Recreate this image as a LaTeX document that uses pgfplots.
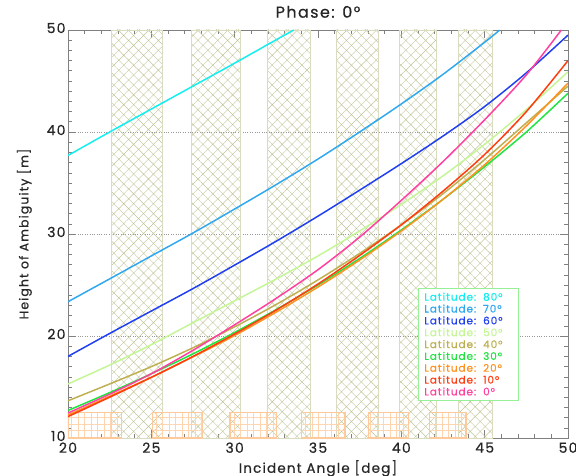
\documentclass[border=0pt]{standalone}
\usepackage{fontspec}
\setmainfont{Poppins}
\newfontfamily\idl{Poppins}[LetterSpace=9, FakeBold=0.6]
\usepackage{pgfplots}
\pgfplotsset{compat=1.18}
\usetikzlibrary{patterns.meta}

\definecolor{c80}{RGB}{20,238,238}
\definecolor{c70}{RGB}{48,168,240}
\definecolor{c60}{RGB}{32,64,240}
\definecolor{c50}{RGB}{196,246,150}
\definecolor{c40}{RGB}{190,176,80}
\definecolor{c30}{RGB}{32,228,64}
\definecolor{c20}{RGB}{255,146,32}
\definecolor{c10}{RGB}{255,60,16}
\definecolor{c00}{RGB}{255,64,160}
\definecolor{bandc}{RGB}{192,196,150}
\definecolor{boxc}{RGB}{255,202,155}
\definecolor{legc}{RGB}{150,240,150}

\pgfplotsset{
  band/.style={forget plot, draw=bandc!60, line width=0.4pt,
    pattern={Hatch[angle=45,distance=7bp,line width=0.4pt]}, pattern color=bandc},
  obox/.style={forget plot, draw=boxc, line width=1.4pt,
    pattern={Hatch[angle=0,distance=6.5bp,line width=0.35pt]}, pattern color=boxc!80},
  lat/.style={#1, line width=1.5pt, smooth},
}

\begin{document}
\begin{tikzpicture}
\useasboundingbox (-68bp,-38bp) rectangle (508bp,438bp);
\begin{axis}[
    at={(0,0)}, anchor=south west,
    scale only axis, width=500bp, height=408bp,
    xmin=20, xmax=50, ymin=10, ymax=50,
    xtick={20,25,...,50}, ytick={10,20,...,50},
    minor x tick num=4, minor y tick num=9,
    major tick length=8bp, minor tick length=4bp,
    tick style={black!50, line width=0.6pt},
    axis line style={black!50, line width=0.8pt},
    ymajorgrids, grid style={dotted, black!40, line width=0.7pt},
    /pgf/number format/assume math mode=true,
    tick label style={font=\idl\fontsize{14}{15}\selectfont, black!85},
    xticklabel style={yshift=-1bp},
    yticklabel style={xshift=1bp, yshift=2bp},
    title={Phase: 0°},
    title style={font=\idl\fontsize{16}{17}\selectfont, black!85, at={(axis description cs:0.5,1)}, anchor=south, inner sep=0pt, yshift=6bp},
    xlabel={Incident Angle [deg]},
    xlabel style={font=\idl\fontsize{13.5}{15}\selectfont, black!85, at={(axis description cs:0.5,0)}, anchor=north, inner sep=0pt, yshift=-22bp},
    ylabel={Height of Ambiguity [m]},
    ylabel style={font=\idl\fontsize{12.5}{15}\selectfont, black!85, at={(axis description cs:-0.072,0.5)}, anchor=south, inner sep=0pt},
    legend cell align=left,
    legend image code/.code={},
    legend style={at={(axis cs:41,13.6)}, anchor=south west, draw=legc, line width=0.8pt, fill=white,
        font=\idl\fontsize{10.5}{12}\selectfont, row sep=-1.6bp, inner xsep=4bp, inner ysep=2bp,
        nodes={text width=88bp, align=left}},
]
% hatched bands
\addplot[band] coordinates {(22.62,10)(25.68,10)(25.68,50)(22.62,50)} --cycle;
\addplot[band] coordinates {(27.42,10)(30.36,10)(30.36,50)(27.42,50)} --cycle;
\addplot[band] coordinates {(31.95,10)(34.56,10)(34.56,50)(31.95,50)} --cycle;
\addplot[band] coordinates {(36.08,10)(38.6,10)(38.6,50)(36.08,50)} --cycle;
\addplot[band] coordinates {(39.86,10)(42.1,10)(42.1,50)(39.86,50)} --cycle;
\addplot[band] coordinates {(43.4,10)(45.48,10)(45.48,50)(43.4,50)} --cycle;
% orange boxes
\addplot[obox] coordinates {(20,10)(23.2,10)(23.2,12.5)(20,12.5)} --cycle;
\addplot[obox] coordinates {(25.06,10)(28.08,10)(28.08,12.5)(25.06,12.5)} --cycle;
\addplot[obox] coordinates {(29.72,10)(32.52,10)(32.52,12.5)(29.72,12.5)} --cycle;
\addplot[obox] coordinates {(34.02,10)(36.62,10)(36.62,12.5)(34.02,12.5)} --cycle;
\addplot[obox] coordinates {(38.02,10)(40.42,10)(40.42,12.5)(38.02,12.5)} --cycle;
\addplot[obox] coordinates {(41.68,10)(43.88,10)(43.88,12.5)(41.68,12.5)} --cycle;

% curves
\addplot[lat=c80] coordinates {(20,37.7)(22.5,40.0)(25,42.25)(27.5,44.5)(30,46.75)(32.5,49.05)(33.55,50)};
\addlegendentry{\textcolor{c80}{Latitude:\ \ 80°}}
\addplot[lat=c70] coordinates {(20,23.36)(22.5,25.6)(25,27.85)(27.5,30.1)(30,32.45)(32.5,34.85)(35,37.35)(37.5,40.0)(40,42.75)(42.5,45.65)(45,48.8)(45.9,50)};
\addlegendentry{\textcolor{c70}{Latitude:\ \ 70°}}
\addplot[lat=c60] coordinates {(20,18.0)(22.5,20.25)(25,22.45)(27.5,24.65)(30,26.95)(32.5,29.3)(35,31.75)(37.5,34.3)(40,36.9)(42.5,39.6)(45,42.5)(47.5,45.8)(50,49.5)};
\addlegendentry{\textcolor{c60}{Latitude:\ \ 60°}}
\addplot[lat=c50] coordinates {(20,15.3)(22.5,17.15)(25,19.15)(27.5,21.3)(30,23.45)(32.5,25.6)(35,27.85)(37.5,30.3)(40,32.9)(42.5,35.7)(45,38.8)(47.5,42.2)(50,45.9)};
\addlegendentry{\textcolor{c50}{Latitude:\ \ 50°}}
\addplot[lat=c40] coordinates {(20,13.65)(22.5,15.3)(25,17.0)(27.5,18.85)(30,20.9)(32.5,23.1)(35,25.5)(37.5,28.1)(40,30.9)(42.5,33.95)(45,37.3)(47.5,40.9)(50,44.5)};
\addlegendentry{\textcolor{c40}{Latitude:\ \ 40°}}
\addplot[lat=c30] coordinates {(20,12.7)(22.5,14.45)(25,16.3)(27.5,18.25)(30,20.35)(32.5,22.6)(35,25.0)(37.5,27.6)(40,30.4)(42.5,33.4)(45,36.6)(47.5,40.0)(50,43.8)};
\addlegendentry{\textcolor{c30}{Latitude:\ \ 30°}}
\addplot[lat=c20] coordinates {(20,12.25)(22.5,14.1)(25,15.95)(27.5,17.95)(30,20.05)(32.5,22.35)(35,24.8)(37.5,27.45)(40,30.3)(42.5,33.4)(45,36.8)(47.5,40.6)(50,44.8)};
\addlegendentry{\textcolor{c20}{Latitude:\ \ 20°}}
\addplot[lat=c10] coordinates {(20,12.1)(22.5,14.0)(25,15.95)(27.5,18.0)(30,20.2)(32.5,22.55)(35,25.1)(37.5,27.9)(40,30.9)(42.5,34.2)(45,37.8)(47.5,42.0)(50,47.0)};
\addlegendentry{\textcolor{c10}{Latitude:\ \ 10°}}
\addplot[lat=c00] coordinates {(20,12.45)(22.5,14.3)(25,16.3)(27.5,18.6)(30,21.1)(32.5,23.7)(35,26.5)(37.5,29.7)(40,33.3)(42.5,37.1)(45,41.2)(47.5,45.6)(49.6,50)};
\addlegendentry{\textcolor{c00}{Latitude:\ \ 0°}}
\end{axis}
\end{tikzpicture}
\end{document}
